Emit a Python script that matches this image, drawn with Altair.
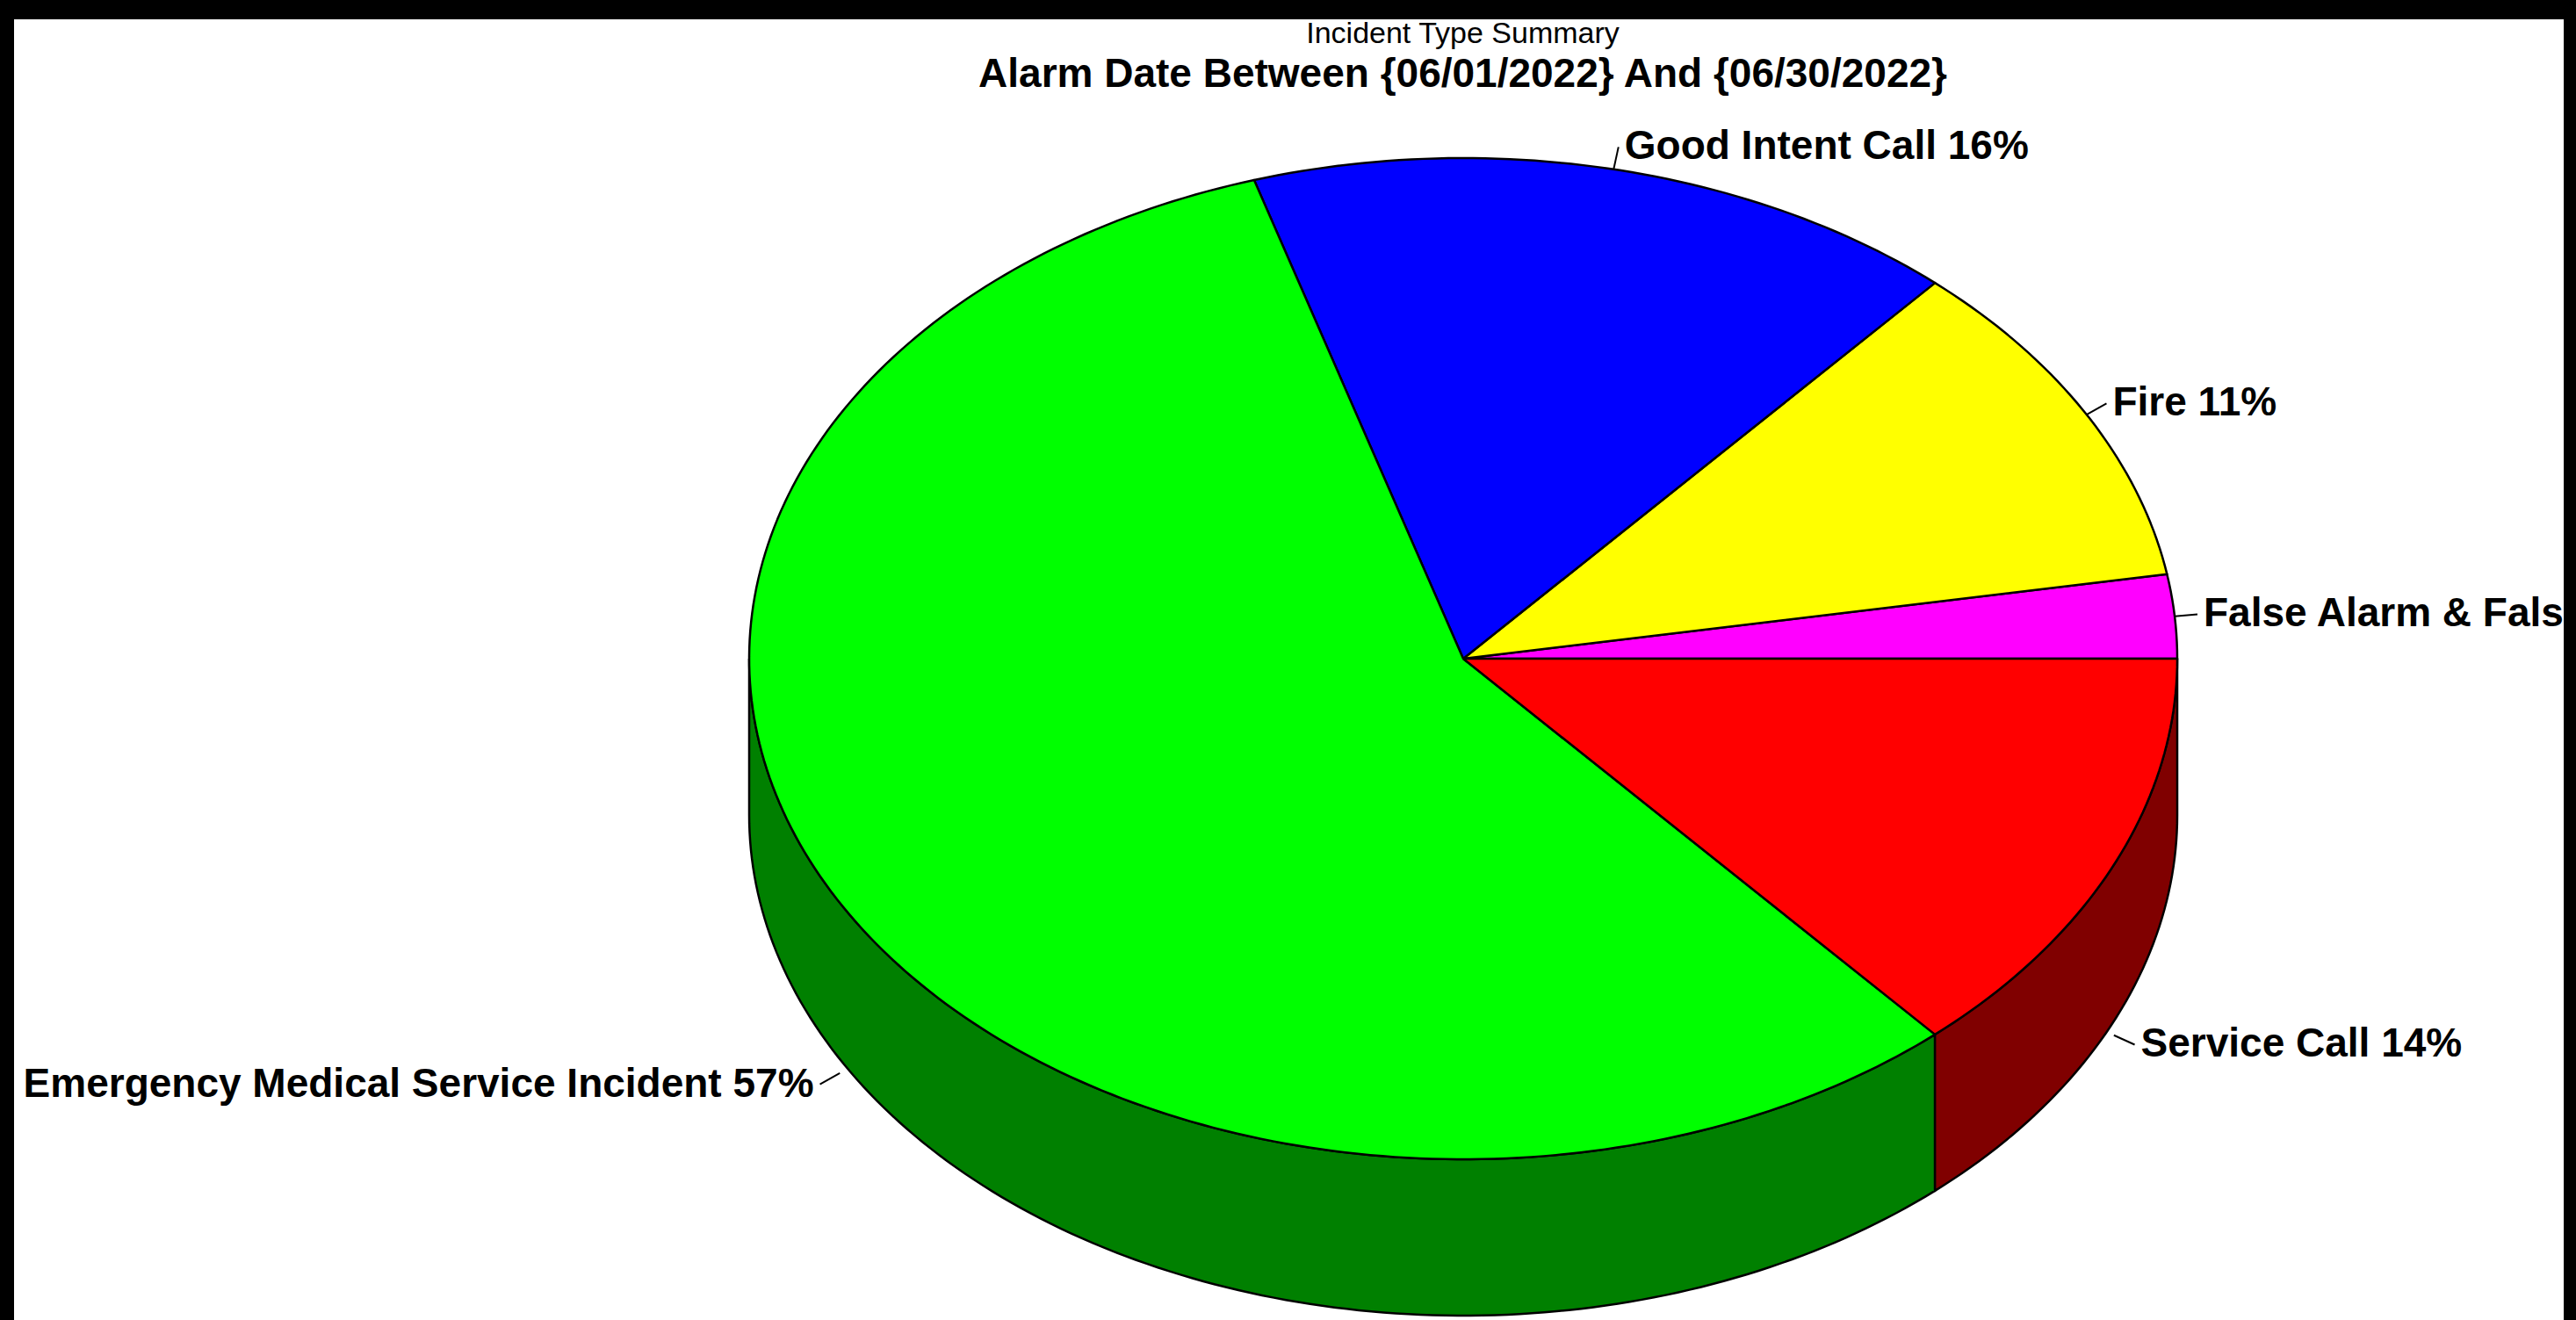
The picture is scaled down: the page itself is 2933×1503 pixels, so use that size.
import math
import numpy as np
import pandas as pd
import altair as alt

# ---- data ----
categories = ["False Alarm & False Call", "Fire", "Good Intent Call",
              "Emergency Medical Service Incident", "Service Call"]
counts = [1, 4, 6, 21, 5]
top_colors = ["#FF00FF", "#FFFF00", "#0000FF", "#00FF00", "#FF0000"]
side_colors = ["#800080", "#808000", "#000080", "#008000", "#800000"]
title_text = "Incident Type Summary"
subtitle_text = "Alarm Date Between {06/01/2022} And {06/30/2022}"

# ---- layout (plot-area units = pixels) ----
W, H = 2903, 1481
CX, CY, RX, RY, DEPTH = 1650, 728, 813, 570, 178
LEAD = 26

total = sum(counts)
top_rows, side_rows, lab_rows = [], [], []
start = 0.0
for k, (cat, c) in enumerate(zip(categories, counts)):
    a1 = start
    a2 = start + 2 * math.pi * c / total
    start = a2
    # top face
    n = max(3, int(math.degrees(a2 - a1)) + 2)
    angs = np.linspace(a1, a2, n)
    pts = [(CX, CY)] + [(CX + RX * math.cos(a), CY - RY * math.sin(a)) for a in angs] + [(CX, CY)]
    for i, (x, y) in enumerate(pts):
        top_rows.append(dict(key=f"t{k}", i=i, x=x, y=y, color=top_colors[k]))
    # visible side (front half)
    b1, b2 = max(a1, math.pi), min(a2, 2 * math.pi)
    if b2 > b1:
        n = max(3, int(math.degrees(b2 - b1)) + 2)
        angs = np.linspace(b1, b2, n)
        upper = [(CX + RX * math.cos(a), CY - RY * math.sin(a)) for a in angs]
        lower = [(x, y + DEPTH) for (x, y) in upper[::-1]]
        pts = upper + lower + [upper[0]]
        for i, (x, y) in enumerate(pts):
            side_rows.append(dict(key=f"s{k}", i=i, x=x, y=y, color=side_colors[k]))
    # label
    m = (a1 + a2) / 2
    ax = CX + RX * math.cos(m)
    ay = CY - RY * math.sin(m) + (DEPTH + 16 if math.sin(m) < 0 else 0)
    ex = ax + LEAD * math.cos(m)
    ey = ay - LEAD * math.sin(m)
    pct = round(100 * c / total)
    lab_rows.append(dict(x0=ax, y0=ay, x1=ex, y1=ey, label=f"{cat} {pct}%",
                         side="right" if math.cos(m) >= 0 else "left"))

top_df = pd.DataFrame(top_rows)
side_df = pd.DataFrame(side_rows)
lab_df = pd.DataFrame(lab_rows)

xs = alt.Scale(domain=[0, W], nice=False, zero=False)
ys = alt.Scale(domain=[0, H], nice=False, zero=False, reverse=True)

def poly(df):
    return alt.Chart(df).mark_line(stroke="black", strokeWidth=2.5, strokeJoin="round").encode(
        x=alt.X("x:Q", scale=xs, axis=None),
        y=alt.Y("y:Q", scale=ys, axis=None),
        fill=alt.Fill("color:N", scale=None, legend=None),
        detail="key:N",
        order="i:Q",
    )

sides = poly(side_df)
tops = poly(top_df)

leaders = alt.Chart(lab_df).mark_rule(color="black", strokeWidth=2).encode(
    x=alt.X("x0:Q", scale=xs, axis=None), y=alt.Y("y0:Q", scale=ys, axis=None),
    x2="x1:Q", y2="y1:Q")

txt_kw = dict(baseline="middle", fontSize=46, font="Liberation Sans", fontWeight="bold",
              color="black", clip=True)
right_txt = alt.Chart(lab_df).transform_filter(alt.datum.side == "right").mark_text(
    align="left", dx=7, **txt_kw).encode(
    x=alt.X("x1:Q", scale=xs, axis=None), y=alt.Y("y1:Q", scale=ys, axis=None), text="label:N")
left_txt = alt.Chart(lab_df).transform_filter(alt.datum.side == "left").mark_text(
    align="right", dx=-7, **txt_kw).encode(
    x=alt.X("x1:Q", scale=xs, axis=None), y=alt.Y("y1:Q", scale=ys, axis=None), text="label:N")

chart = alt.layer(sides, tops, leaders, right_txt, left_txt).properties(
    width=W, height=H,
    title=alt.TitleParams(text=title_text, subtitle=subtitle_text, anchor="middle",
                          offset=-86, dx=198, subtitlePadding=7),
    padding={"top": 22, "left": 16, "right": 14, "bottom": 0},
    autosize=alt.AutoSizeParams(type="none"),
    background="black",
).configure_view(fill="white", stroke="white", strokeWidth=0).configure_title(
    font="Liberation Sans", fontSize=34, fontWeight="normal", color="black",
    subtitleFont="Liberation Sans", subtitleFontSize=46, subtitleFontWeight="bold",
    subtitleColor="black")

chart.save("out.html", embed_options={"renderer": "svg", "actions": False})
